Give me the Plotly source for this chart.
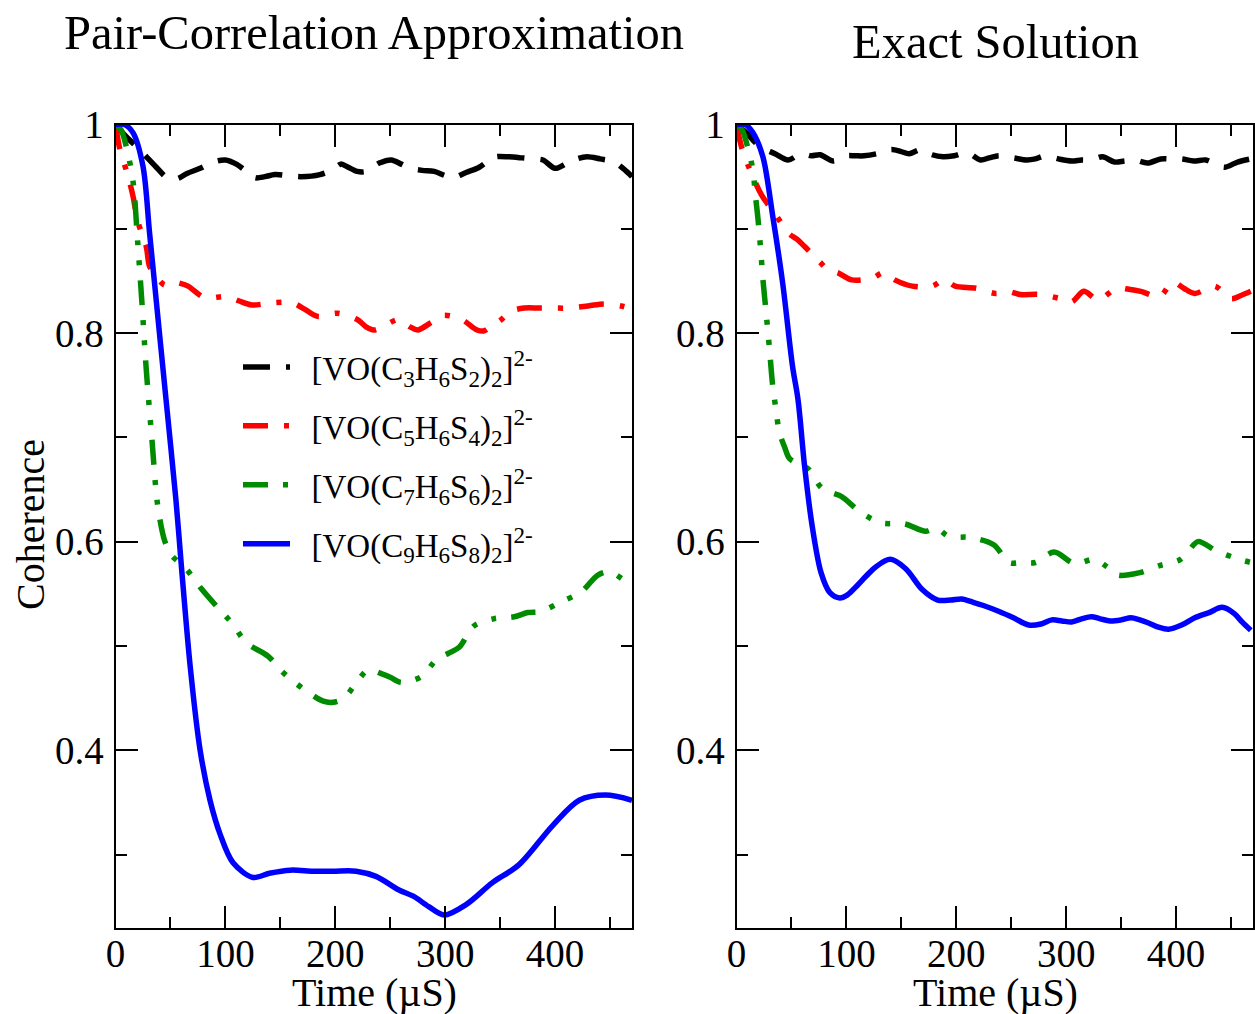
import plotly.graph_objects as go

# ---------------- data ----------------
series_names = ["[VO(C<sub>3</sub>H<sub>6</sub>S<sub>2</sub>)<sub>2</sub>]<sup>2-</sup>",
                "[VO(C<sub>5</sub>H<sub>6</sub>S<sub>4</sub>)<sub>2</sub>]<sup>2-</sup>",
                "[VO(C<sub>7</sub>H<sub>6</sub>S<sub>6</sub>)<sub>2</sub>]<sup>2-</sup>",
                "[VO(C<sub>9</sub>H<sub>6</sub>S<sub>8</sub>)<sub>2</sub>]<sup>2-</sup>"]

# Pair-Correlation Approximation (left panel)
pca_c3_t = [0, 10, 20, 29, 38, 47, 56, 65, 77, 89, 100, 110, 118, 127, 136, 145, 157, 169, 186, 198, 205, 210, 220,
            228, 240, 251, 260, 268, 279, 290, 300, 307, 319, 331, 339, 346, 358, 370, 380, 389, 400, 411, 420, 429,
            441, 454, 465, 470]
pca_c3_v = [1.0, 0.988, 0.978, 0.968, 0.958, 0.949, 0.948, 0.953, 0.958, 0.964, 0.966, 0.962, 0.956, 0.949, 0.95,
            0.952, 0.951, 0.95, 0.952, 0.957, 0.962, 0.96, 0.955, 0.955, 0.963, 0.966, 0.962, 0.958, 0.956, 0.955,
            0.951, 0.949, 0.954, 0.959, 0.965, 0.969, 0.969, 0.968, 0.967, 0.966, 0.958, 0.963, 0.967, 0.969, 0.967,
            0.964, 0.955, 0.95]

pca_c5_t = [0, 4, 11, 16, 20, 28, 31, 38, 45, 52, 58, 66, 81, 101, 112, 124, 143, 161, 172, 184, 202, 220, 228, 235,
            243, 258, 268, 275, 287, 298, 315, 329, 335, 340, 350, 360, 372, 385, 397, 412, 430, 445, 460, 470]
pca_c5_v = [1.0, 0.976, 0.952, 0.931, 0.908, 0.883, 0.864, 0.853, 0.846, 0.849, 0.848, 0.845, 0.834, 0.835, 0.831,
            0.827, 0.829, 0.829, 0.823, 0.816, 0.819, 0.813, 0.806, 0.803, 0.806, 0.813, 0.806, 0.803, 0.81, 0.817,
            0.813, 0.803, 0.802, 0.805, 0.812, 0.821, 0.824, 0.824, 0.824, 0.824, 0.826, 0.828, 0.826, 0.823]

pca_c7_t = [0, 5, 10, 16, 20, 24, 28, 33, 38.5, 45, 51, 58, 65, 78, 92, 100, 108, 119, 139, 152, 162, 172, 189, 198,
            208, 220, 230, 243, 250, 260, 279, 292, 303, 313, 326, 344, 363, 375, 387, 405, 424, 439, 450, 463, 470]
pca_c7_v = [1.0, 0.995, 0.978, 0.945, 0.89, 0.83, 0.765, 0.7, 0.634, 0.6, 0.587, 0.58, 0.573, 0.555, 0.538, 0.529,
            0.519, 0.503, 0.49, 0.475, 0.466, 0.458, 0.447, 0.446, 0.45, 0.466, 0.477, 0.473, 0.47, 0.465, 0.471,
            0.487, 0.493, 0.499, 0.519, 0.526, 0.528, 0.532, 0.533, 0.542, 0.552, 0.568, 0.571, 0.563, 0.56]

pca_c9_t = [0, 8, 16, 25, 31, 37, 46, 55, 60, 68, 77, 86, 95, 107, 125, 140, 159, 180, 198, 219, 237, 258, 271, 285,
            299, 319, 343, 367, 398, 422, 446, 470]
pca_c9_v = [1.0, 1.0, 0.992, 0.96, 0.896, 0.832, 0.736, 0.64, 0.576, 0.48, 0.40, 0.352, 0.32, 0.292, 0.278, 0.282,
            0.285, 0.284, 0.284, 0.284, 0.279, 0.266, 0.26, 0.25, 0.242, 0.252, 0.273, 0.29, 0.328, 0.352, 0.357,
            0.352]

# Exact Solution (right panel)
ex_c3_t = [0, 9, 21, 35, 47, 59, 68, 76, 88, 100, 108, 116, 128, 141, 150, 157, 168, 178, 188, 198, 210, 222, 230,
           239, 252, 264, 272, 281, 293, 305, 314, 323, 333, 344, 353, 362, 374, 386, 395, 405, 416, 427, 436, 444,
           456, 468]
ex_c3_v = [1.0, 0.992, 0.979, 0.972, 0.966, 0.972, 0.97, 0.971, 0.965, 0.97, 0.97, 0.97, 0.972, 0.976, 0.974, 0.972,
           0.976, 0.971, 0.969, 0.97, 0.973, 0.966, 0.968, 0.97, 0.968, 0.966, 0.967, 0.97, 0.967, 0.965, 0.966,
           0.966, 0.969, 0.964, 0.965, 0.966, 0.963, 0.967, 0.967, 0.967, 0.965, 0.966, 0.962, 0.959, 0.964, 0.967]

ex_c5_t = [0, 5, 14, 23, 36, 47, 55, 62, 76, 84, 92, 105, 124, 134, 144, 160, 178, 189, 199, 218, 236, 247, 258, 276,
           295, 305, 316, 329, 346, 357, 368, 385, 397, 407, 417, 435, 450, 459, 468]
ex_c5_v = [1.0, 0.977, 0.952, 0.932, 0.913, 0.896, 0.89, 0.883, 0.868, 0.86, 0.858, 0.851, 0.853, 0.858, 0.851,
           0.845, 0.845, 0.851, 0.845, 0.843, 0.838, 0.84, 0.837, 0.837, 0.833, 0.83, 0.84, 0.832, 0.843, 0.842,
           0.84, 0.835, 0.849, 0.843, 0.838, 0.845, 0.833, 0.836, 0.84]

ex_c7_t = [0, 5, 10, 15, 17, 19.5, 22, 24, 27, 30, 33, 36, 39, 44, 48, 55, 65, 78, 96, 104, 113, 131.5, 153, 172, 182,
           193, 213, 234, 248, 260, 272, 289, 307.5, 326, 337, 347, 366, 385, 404, 412, 420, 437, 457.6, 468]
ex_c7_v = [1.0, 0.995, 0.979, 0.956, 0.934, 0.91, 0.88, 0.852, 0.819, 0.785, 0.749, 0.726, 0.705, 0.69, 0.68, 0.675,
           0.67, 0.651, 0.643, 0.636, 0.628, 0.618, 0.617, 0.61, 0.613, 0.605, 0.604, 0.597, 0.58, 0.58, 0.58, 0.59,
           0.579, 0.583, 0.576, 0.568, 0.57, 0.577, 0.583, 0.592, 0.60, 0.591, 0.583, 0.58]

ex_c9_t = [0, 8, 15, 24, 33, 42, 51, 56, 62, 69, 77, 85, 94, 101, 109, 118, 127, 140, 154, 169, 183, 195, 205, 215,
           224, 239, 252, 266, 277, 287, 296, 305, 314, 323, 331, 340, 350, 359, 367, 375, 384, 393, 405, 417, 430,
           442, 453, 460, 468]
ex_c9_v = [1.0, 1.0, 0.992, 0.969, 0.912, 0.848, 0.768, 0.736, 0.672, 0.614, 0.57, 0.551, 0.546, 0.549, 0.557, 0.567,
           0.576, 0.583, 0.574, 0.554, 0.544, 0.544, 0.545, 0.542, 0.539, 0.533, 0.527, 0.52, 0.521, 0.525, 0.524,
           0.523, 0.526, 0.528, 0.526, 0.524, 0.525, 0.527, 0.525, 0.522, 0.518, 0.516, 0.52, 0.527, 0.532, 0.537,
           0.531, 0.523, 0.515]

x_tickvals = [0, 100, 200, 300, 400]
y_tickvals = [0.4, 0.6, 0.8, 1.0]
y_ticktext = ["0.4", "0.6", "0.8", "1"]

colors = ["#000000", "#ff0000", "#008b00", "#0000ff"]
dashes = ["27px,16px", "25px,16px,5px,16px", "25px,15px,5px,15px,5px,15px", "solid"]

FONT = "Liberation Serif"
W, H = 1255, 1014
OFF = 0  # body margin removed below
PAD = "\u00a0\u00a0"


def px_x(p):
    return (p - OFF) / W


def px_y(p):
    return 1 - (p - OFF) / H


fig = go.Figure()

left = [(pca_c3_t, pca_c3_v), (pca_c5_t, pca_c5_v), (pca_c7_t, pca_c7_v), (pca_c9_t, pca_c9_v)]
right = [(ex_c3_t, ex_c3_v), (ex_c5_t, ex_c5_v), (ex_c7_t, ex_c7_v), (ex_c9_t, ex_c9_v)]

for i, (t, v) in enumerate(left):
    fig.add_trace(go.Scatter(x=t, y=v, mode="lines", name=PAD + series_names[i], legendgroup=f"g{i}",
                             line=dict(color=colors[i], width=5.5, dash=dashes[i], shape="spline", smoothing=0.9),
                             xaxis="x", yaxis="y", showlegend=True))
for i, (t, v) in enumerate(right):
    fig.add_trace(go.Scatter(x=t, y=v, mode="lines", name=PAD + series_names[i], legendgroup=f"g{i}",
                             line=dict(color=colors[i], width=5.5, dash=dashes[i], shape="spline", smoothing=0.9),
                             xaxis="x2", yaxis="y2", showlegend=False))


def xax(domain, anchor):
    return dict(domain=domain, anchor=anchor, range=[0, 470], tickmode="array", tickvals=x_tickvals,
                ticks="inside", ticklen=22, tickwidth=2, tickcolor="black", automargin=False,
                showline=True, linewidth=2, linecolor="black", mirror="ticks",
                showgrid=False, zeroline=False, ticklabelstandoff=-9,
                minor=dict(tickmode="linear", tick0=0, dtick=50, ticks="inside", ticklen=11, tickwidth=2,
                           tickcolor="black", showgrid=False),
                tickfont=dict(family=FONT, size=39, color="black"))


def yax(domain, anchor):
    return dict(domain=domain, anchor=anchor, range=[0.23, 1.0], tickmode="array", tickvals=y_tickvals,
                ticktext=y_ticktext, automargin=False,
                ticks="inside", ticklen=22, tickwidth=2, tickcolor="black",
                showline=True, linewidth=2, linecolor="black", mirror="ticks",
                showgrid=False, zeroline=False, ticklabelstandoff=2,
                minor=dict(tickmode="linear", tick0=0, dtick=0.1, ticks="inside", ticklen=11, tickwidth=2,
                           tickcolor="black", showgrid=False),
                tickfont=dict(family=FONT, size=39, color="black"))


ydom = [px_y(927.5), px_y(124.5)]
fig.update_layout(
    width=W, height=H, autosize=False,
    margin=dict(l=0, r=0, t=0, b=0, pad=0, autoexpand=False),
    paper_bgcolor="white", plot_bgcolor="white",
    hovermode=False,
    xaxis=xax([px_x(115.5), px_x(632)], "y"),
    yaxis=yax(ydom, "x"),
    xaxis2=xax([px_x(736.5), px_x(1253)], "y2"),
    yaxis2=yax(ydom, "x2"),
    showlegend=True,
    legend=dict(x=px_x(238), y=px_y(339), xanchor="left", yanchor="top",
                bgcolor="rgba(0,0,0,0)", borderwidth=0, itemwidth=47, tracegroupgap=13,
                font=dict(family=FONT, size=33, color="black")),
    annotations=[
        dict(text="Pair-Correlation Approximation", x=px_x(374), y=px_y(32), xref="paper", yref="paper",
             showarrow=False, xanchor="center", yanchor="middle", font=dict(family=FONT, size=48.5, color="black")),
        dict(text="Exact Solution", x=px_x(995), y=px_y(42), xref="paper", yref="paper",
             showarrow=False, xanchor="center", yanchor="middle", font=dict(family=FONT, size=48.5, color="black")),
        dict(text="Coherence", x=px_x(30), y=px_y(525), xref="paper", yref="paper", textangle=-90,
             showarrow=False, xanchor="center", yanchor="middle", font=dict(family=FONT, size=40, color="black")),
        dict(text="Time (µS)", x=px_x(374), y=px_y(992), xref="paper", yref="paper",
             showarrow=False, xanchor="center", yanchor="middle", font=dict(family=FONT, size=40, color="black")),
        dict(text="Time (µS)", x=px_x(995), y=px_y(992), xref="paper", yref="paper",
             showarrow=False, xanchor="center", yanchor="middle", font=dict(family=FONT, size=40, color="black")),
    ],
)

fig.write_html("out.html", config={"displayModeBar": False},
               post_script="document.body.style.margin='0px';document.body.style.overflow='hidden';")
